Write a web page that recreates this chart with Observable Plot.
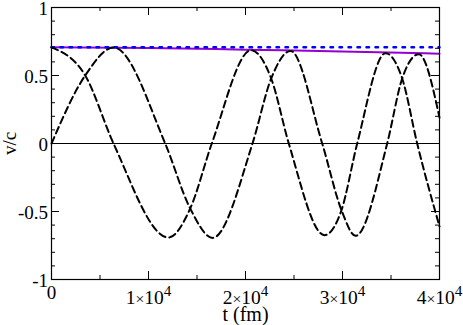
<!DOCTYPE html>
<html><head><meta charset="utf-8">
<script src="https://cdn.jsdelivr.net/npm/d3@7"></script>
<script src="https://cdn.jsdelivr.net/npm/@observablehq/plot@0.6"></script>
<style>html,body{margin:0;padding:0;background:#fff}</style>
</head><body><div id="chart"></div>
<script>
// ---- data ----
const xMajor = [0, 10000, 20000, 30000, 40000];
const xMinor = [5000, 15000, 25000, 35000];
const yMajor = [-1, -0.5, 0, 0.5, 1];
const yMinor = [-0.9,-0.8,-0.7,-0.6,-0.4,-0.3,-0.2,-0.1,0.1,0.2,0.3,0.4,0.6,0.7,0.8,0.9];
const xTickLabels = ["0", "1×10^4", "2×10^4", "3×10^4", "4×10^4"];
const yTickLabels = ["-1", "-0.5", "0", "0.5", "1"];
const xTitle = "t (fm)";
const yTitle = "v/c";

// dashed curve starting at maximum
const tA = [0, 3474, 6392, 12062, 14299, 16525, 20587, 22649, 24463, 28144, 29896, 31515, 34432, 36154, 37700, 40000];
const vA = [0.707, 0.50, 0, -0.691, -0.478, 0, 0.686, 0.478, 0, -0.674, -0.49, 0, 0.664, 0.478, 0, -0.61];
// dashed curve starting at zero
const tB = [0, 3474, 6392, 11721, 14299, 16597, 20721, 22649, 24639, 27906, 29896, 31340, 34607, 36154, 37866, 40000];
const vB = [0, 0.50, 0.706, 0, -0.478, -0.694, 0, 0.478, 0.681, 0, -0.49, -0.679, 0, 0.478, 0.657, 0.19];
// solid violet curve
const tMag = [0, 10000, 20000, 30000, 40000];
const vMag = [0.707, 0.703, 0.690, 0.677, 0.660];
// dotted blue reference
const tRef = [0, 40000];
const vRef = [0.707, 0.707];

// ---- layout ----
const W = 463, H = 325, mL = 51, mR = 24, mT = 7, mB = 46;
const pw = W - mL - mR, ph = H - mT - mB;
const series = (t, v) => t.map((d, i) => ({t: d, v: v[i]}));
const font = "Liberation Serif";

const chart = Plot.plot({
  width: W, height: H,
  marginLeft: mL, marginRight: mR, marginTop: mT, marginBottom: mB,
  x: {domain: [0, 40000], axis: null},
  y: {domain: [-1, 1], axis: null},
  style: {background: "#fff", color: "#000", overflow: "visible"},
  marks: [
    Plot.ruleY([0], {stroke: "#000", strokeWidth: 1}),
    Plot.line(series(tMag, vMag), {x: "t", y: "v", stroke: "#9400d3", strokeWidth: 2, curve: "natural"}),
    Plot.line(series(tRef, vRef), {x: "t", y: "v", stroke: "#0000ff", strokeWidth: 2.5, strokeDasharray: "2.5,6.5"}),
    Plot.line(series(tA, vA), {x: "t", y: "v", stroke: "#000", strokeWidth: 2, strokeDasharray: "7,4", curve: "monotone-x"}),
    Plot.line(series(tB, vB), {x: "t", y: "v", stroke: "#000", strokeWidth: 2, strokeDasharray: "7,4", curve: "monotone-x"}),
    // inward ticks
    Plot.tickX(xMajor, {x: d => d, insetTop: ph - 8, stroke: "#000"}),
    Plot.tickX(xMajor, {x: d => d, insetBottom: ph - 8, stroke: "#000"}),
    Plot.tickX(xMinor, {x: d => d, insetTop: ph - 4, stroke: "#000"}),
    Plot.tickX(xMinor, {x: d => d, insetBottom: ph - 4, stroke: "#000"}),
    Plot.tickY(yMajor, {y: d => d, insetRight: pw - 8, stroke: "#000"}),
    Plot.tickY(yMajor, {y: d => d, insetLeft: pw - 8, stroke: "#000"}),
    Plot.tickY(yMinor, {y: d => d, insetRight: pw - 4, stroke: "#000"}),
    Plot.tickY(yMinor, {y: d => d, insetLeft: pw - 4, stroke: "#000"}),
    Plot.frame({stroke: "#000", strokeWidth: 1.2}),
    // tick labels
    Plot.text(yMajor, {y: d => d, text: (d, i) => yTickLabels[i], frameAnchor: "left", textAnchor: "end", dx: -3.5, dy: 1, lineAnchor: "middle", fontSize: 19, fontFamily: font, fill: "#000"}),
    Plot.text(xMajor.slice(0, 1), {x: d => d, text: () => xTickLabels[0], frameAnchor: "bottom", textAnchor: "middle", lineAnchor: "bottom", dy: 19, fontSize: 19, fontFamily: font, fill: "#000"}),
    Plot.text(xMajor.slice(1), {x: d => d, text: (d, i) => xTickLabels[i + 1], frameAnchor: "bottom", textAnchor: "middle", lineAnchor: "bottom", dy: 24, fontSize: 19.5, fontFamily: font, fill: "#000"}),
    // axis titles
    Plot.text([xTitle], {text: d => d, frameAnchor: "bottom", textAnchor: "middle", lineAnchor: "bottom", dy: 41.5, fontSize: 20, fontFamily: font, fill: "#000"}),
    Plot.text([yTitle], {text: d => d, frameAnchor: "left", textAnchor: "middle", rotate: -90, dx: -36, lineAnchor: "bottom", fontSize: 19, fontFamily: font, fill: "#000"})
  ]
});

// superscript exponents in the x tick labels
d3.select(chart).selectAll("text").each(function() {
  const s = this.textContent;
  if (s.includes("^")) {
    const el = d3.select(this);
    const [base, exp] = s.split("^");
    const [n, rest] = base.split("×");
    el.text(null);
    el.append("tspan").text(n);
    el.append("tspan").attr("font-size", "0.8em").text("×");
    el.append("tspan").text(rest);
    el.append("tspan").attr("dy", -8).attr("font-size", "0.78em").text(exp);
  }
});

document.getElementById("chart").append(chart);
</script>
</body></html>
